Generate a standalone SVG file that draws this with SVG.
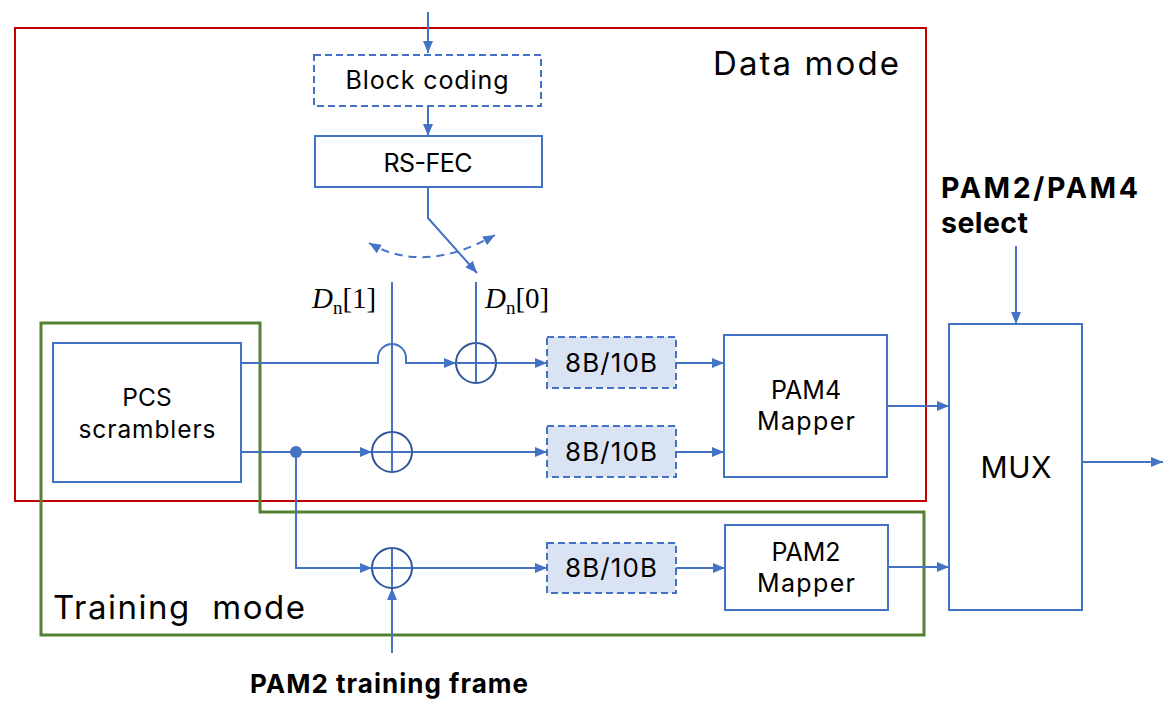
<svg xmlns="http://www.w3.org/2000/svg" width="1163" height="701" viewBox="0 0 1163 701">
<style>
.box{fill:#fff;stroke:#4472C4;stroke-width:2}
.dbox{fill:#fff;stroke:#4472C4;stroke-width:2;stroke-dasharray:7,4}
.enc{fill:#DAE3F3;stroke:#4472C4;stroke-width:2;stroke-dasharray:7,4}
.ln{fill:none;stroke:#4472C4;stroke-width:2}
.xor{fill:#fff;stroke:#2F5597;stroke-width:2}
.t{font-family:Inter,"Open Sans",sans-serif;fill:#000;text-anchor:middle}
.b{font-family:Inter,"Open Sans",sans-serif;font-weight:bold;fill:#000}
.tm{font-family:"Liberation Serif",serif;fill:#000}
</style>
<defs>
<marker id="ah" viewBox="0 0 12 10" refX="12" refY="5" markerWidth="12" markerHeight="10" markerUnits="userSpaceOnUse" orient="auto-start-reverse">
<path d="M0,0 L12,5 L0,10 z" fill="#4472C4"/>
</marker>
</defs>
<rect width="1163" height="701" fill="#fff"/>

<g id="data-mode">
<rect x="15" y="28" width="911" height="473" fill="none" stroke="#C00000" stroke-width="2"/>
<text class="t" x="713" y="75" font-size="33" style="text-anchor:start" textLength="186">Data mode</text>
</g>
<g id="training-mode">
<path d="M41,323 H260 V512 H924 V635 H41 Z" fill="none" stroke="#548235" stroke-width="3"/>
<text class="t" x="53" y="619" font-size="33" style="text-anchor:start" textLength="252" xml:space="preserve">Training  mode</text>
</g>

<g id="connectors">
<path class="ln" d="M428,12 V53" marker-end="url(#ah)"/>
<path class="ln" d="M428,106 V136" marker-end="url(#ah)"/>
<path class="ln" d="M428,187 V218 L477,273" marker-end="url(#ah)"/>
<path class="ln" d="M369,243 Q424,275 495,235" stroke-dasharray="8,6" marker-start="url(#ah)" marker-end="url(#ah)"/>
<path class="ln" d="M392,282 V432"/>
<path class="ln" d="M476,282 V343"/>
<path class="ln" d="M242,363 H378 V358 A14,14 0 0 1 406,358 V363 H456" marker-end="url(#ah)"/>
<path class="ln" d="M242,452 H372" marker-end="url(#ah)"/>
<path class="ln" d="M296,452 V568 H372" marker-end="url(#ah)"/>
<circle cx="296" cy="452" r="6" fill="#4472C4"/>
<path class="ln" d="M392,653 V588" marker-end="url(#ah)"/>
<path class="ln" d="M496,363 H547" marker-end="url(#ah)"/>
<path class="ln" d="M412,452 H547" marker-end="url(#ah)"/>
<path class="ln" d="M412,568 H547" marker-end="url(#ah)"/>
<path class="ln" d="M676,363 H724" marker-end="url(#ah)"/>
<path class="ln" d="M676,452 H724" marker-end="url(#ah)"/>
<path class="ln" d="M676,568 H725" marker-end="url(#ah)"/>
<path class="ln" d="M887,406 H949" marker-end="url(#ah)"/>
<path class="ln" d="M888,567 H949" marker-end="url(#ah)"/>
<path class="ln" d="M1016,246 V324" marker-end="url(#ah)"/>
<path class="ln" d="M1082,462 H1163" marker-end="url(#ah)"/>
</g>

<g id="block-coding">
<rect class="dbox" x="314" y="55" width="227" height="51"/>
<text class="t" x="427" y="89" font-size="25" textLength="163">Block coding</text>
</g>
<g id="rs-fec">
<rect class="box" x="315" y="136" width="227" height="51"/>
<text class="t" x="428" y="172" font-size="25" textLength="89">RS-FEC</text>
</g>
<g id="label-dn1">
<text class="tm" x="312" y="308" font-size="29"><tspan font-style="italic">D</tspan><tspan font-size="19" dy="6">n</tspan><tspan dy="-6">[1]</tspan></text>
</g>
<g id="label-dn0">
<text class="tm" x="485" y="308" font-size="29"><tspan font-style="italic">D</tspan><tspan font-size="19" dy="6">n</tspan><tspan dy="-6">[0]</tspan></text>
</g>
<g id="pcs-scramblers">
<rect class="box" x="53" y="343" width="188" height="139"/>
<text class="t" font-size="24.5"><tspan x="147" y="406">PCS</tspan><tspan x="147" y="438" textLength="137">scramblers</tspan></text>
</g>
<g id="xor1">
<circle class="xor" cx="476" cy="363" r="20"/>
<path class="ln" d="M456,363 H496 M476,343 V383" stroke="#2F5597"/>
</g>
<g id="xor2">
<circle class="xor" cx="392" cy="452" r="20"/>
<path class="ln" d="M372,452 H412 M392,432 V472" stroke="#2F5597"/>
</g>
<g id="xor3">
<circle class="xor" cx="392" cy="568" r="20"/>
<path class="ln" d="M372,568 H412 M392,548 V588" stroke="#2F5597"/>
</g>
<g id="enc1">
<rect class="enc" x="547" y="337" width="129" height="51"/>
<text class="t" x="611" y="372" font-size="26" textLength="92">8B/10B</text>
</g>
<g id="enc2">
<rect class="enc" x="547" y="426" width="129" height="51"/>
<text class="t" x="611" y="461" font-size="26" textLength="92">8B/10B</text>
</g>
<g id="enc3">
<rect class="enc" x="547" y="543" width="129" height="50"/>
<text class="t" x="611" y="577" font-size="26" textLength="92">8B/10B</text>
</g>
<g id="pam4-mapper">
<rect class="box" x="724" y="335" width="163" height="142"/>
<text class="t" font-size="25"><tspan x="806" y="399">PAM4</tspan><tspan x="806" y="430" textLength="98">Mapper</tspan></text>
</g>
<g id="pam2-mapper">
<rect class="box" x="725" y="525" width="163" height="85"/>
<text class="t" font-size="25"><tspan x="806" y="561">PAM2</tspan><tspan x="806" y="592" textLength="98">Mapper</tspan></text>
</g>
<g id="mux">
<rect class="box" x="949" y="324" width="133" height="286" stroke="#2F5597"/>
<text class="t" x="1016" y="478" font-size="30" textLength="71">MUX</text>
</g>
<g id="select-label">
<text class="b" font-size="28.5"><tspan x="941" y="198" textLength="197">PAM2/PAM4</tspan><tspan x="941" y="233" textLength="87">select</tspan></text>
</g>
<g id="training-frame-label">
<text class="b" x="389" y="693" font-size="26" text-anchor="middle" textLength="278">PAM2 training frame</text>
</g>
</svg>
